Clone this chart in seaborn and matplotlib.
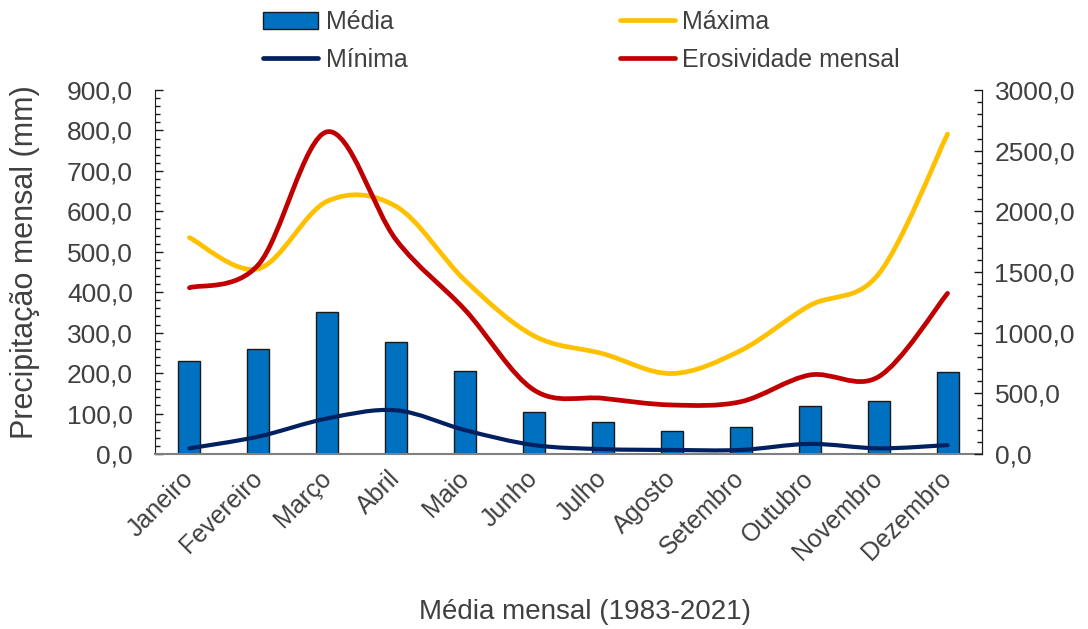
import numpy as np
import pandas as pd
import matplotlib
matplotlib.use("Agg")
import matplotlib.pyplot as plt
import seaborn as sns
from matplotlib.path import Path
from matplotlib.patches import PathPatch, Patch
from matplotlib.lines import Line2D
from matplotlib.ticker import FuncFormatter, MultipleLocator

# Dados
meses = ["Janeiro", "Fevereiro", "Março", "Abril", "Maio", "Junho",
         "Julho", "Agosto", "Setembro", "Outubro", "Novembro", "Dezembro"]
media = [230, 259, 352, 278, 204, 105, 78, 58, 67, 119, 131, 203]
maxima = [535, 458, 625, 612, 429, 292, 248, 199, 256, 367, 445, 791]
minima = [14, 43, 88, 108, 59, 22, 12, 10, 10, 25, 14, 22]
erosividade = [1370, 1560, 2656, 1764, 1187, 527, 459, 404, 431, 651, 637, 1324]

AZUL = "#0070C0"
AMARELO = "#FFC000"
VERMELHO = "#C00000"
MARINHO = "#002060"
TEXTO = "#404040"

sns.set_style("white")
plt.rcParams["font.family"] = ["Liberation Sans", "DejaVu Sans"]
plt.rcParams["text.color"] = TEXTO
plt.rcParams["axes.labelcolor"] = TEXTO
plt.rcParams["xtick.color"] = TEXTO
plt.rcParams["ytick.color"] = TEXTO


def curva_suave(x, y):
    # linha suavizada (estilo Excel) como curva de Bezier
    pts = np.column_stack([x, y]).astype(float)
    ext = np.vstack([pts[0], pts, pts[-1]])
    verts = [pts[0]]
    codes = [Path.MOVETO]
    for i in range(len(pts) - 1):
        p0, p1, p2, p3 = ext[i], ext[i + 1], ext[i + 2], ext[i + 3]
        verts += [p1 + (p2 - p0) / 6, p2 - (p3 - p1) / 6, p2]
        codes += [Path.CURVE4] * 3
    return Path(verts, codes)


df = pd.DataFrame({"mes": meses, "media": media})
x = np.arange(len(meses))

fig = plt.figure(figsize=(10.88, 6.29), dpi=100)
ax = fig.add_axes([155 / 1088, 1 - 454 / 629, 827 / 1088, 364 / 629])
ax2 = ax.twinx()

sns.barplot(data=df, x="mes", y="media", order=meses, ax=ax, color=AZUL,
            width=0.32, edgecolor="#1a1a1a", linewidth=1, saturation=1, zorder=2)

ax.add_patch(PathPatch(curva_suave(x, maxima), facecolor="none", edgecolor=AMARELO,
                       lw=3.4, capstyle="round", zorder=3))
ax.add_patch(PathPatch(curva_suave(x, minima), facecolor="none", edgecolor=MARINHO,
                       lw=3.0, capstyle="round", zorder=3))
ax2.add_patch(PathPatch(curva_suave(x, erosividade), facecolor="none", edgecolor=VERMELHO,
                        lw=3.4, capstyle="round", zorder=3))

ax.set_xlim(-0.5, 11.5)
ax.set_ylim(0, 900)
ax2.set_ylim(0, 3000)

fmt = FuncFormatter(lambda v, _: f"{v:.1f}".replace(".", ","))
ax.yaxis.set_major_locator(MultipleLocator(100))
ax.yaxis.set_minor_locator(MultipleLocator(20))
ax.yaxis.set_major_formatter(fmt)
ax2.yaxis.set_major_locator(MultipleLocator(500))
ax2.yaxis.set_minor_locator(MultipleLocator(100))
ax2.yaxis.set_major_formatter(fmt)

ax.set_xticks(x)
ax.set_xticks(np.arange(0.5, 11, 1), minor=True)
ax.set_xticklabels(meses, rotation=45, ha="right", va="center",
                   rotation_mode="anchor")

ax.tick_params(axis="x", which="both", direction="in", length=5, width=1,
               color="#808080", labelsize=18, pad=15)
ax.tick_params(axis="y", which="major", direction="in", length=6, width=1,
               color="#1a1a1a", labelsize=19, pad=16)
ax.tick_params(axis="y", which="minor", direction="in", length=3.5, width=1,
               color="#1a1a1a")
ax2.tick_params(axis="y", which="major", direction="in", length=6, width=1,
                color="#1a1a1a", labelsize=19, pad=9)
ax2.tick_params(axis="y", which="minor", direction="in", length=3.5, width=1,
                color="#1a1a1a")

for a in (ax, ax2):
    a.spines["top"].set_visible(False)
    a.spines["bottom"].set_color("#808080")
    a.spines["bottom"].set_linewidth(1.5)
    a.spines["left"].set_color("#1a1a1a")
    a.spines["right"].set_color("#1a1a1a")
ax2.spines["left"].set_visible(False)
ax2.spines["bottom"].set_visible(False)

ax.set_xlabel("Média mensal (1983-2021)", fontsize=20)
ax.xaxis.set_label_coords((585 - 155) / 827, (454 - 599) / 364)
ax.set_ylabel("Precipitação mensal (mm)", fontsize=22)
ax.yaxis.set_label_coords((40 - 155) / 827, (454 - 262) / 364)

handles = [
    Patch(facecolor=AZUL, edgecolor="#1a1a1a", linewidth=1),
    Line2D([], [], color=MARINHO, lw=3.4, solid_capstyle="round"),
    Line2D([], [], color=AMARELO, lw=3.4, solid_capstyle="round"),
    Line2D([], [], color=VERMELHO, lw=3.4, solid_capstyle="round"),
]
labels = ["Média", "Mínima", "Máxima", "Erosividade mensal"]
fig.legend(handles, labels, ncol=2, loc="upper left",
           bbox_to_anchor=(263 / 1088, 1 - 10 / 629), frameon=False,
           fontsize=18, handlelength=2.2, handletextpad=0.3,
           columnspacing=8.5, labelspacing=0.55, borderpad=0, borderaxespad=0)

fig.savefig("out.png", dpi=100)
